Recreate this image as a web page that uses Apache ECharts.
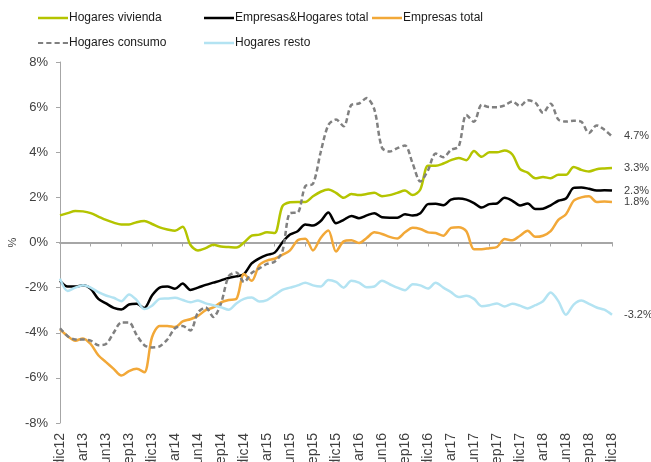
<!DOCTYPE html>
<html>
<head>
<meta charset="utf-8">
<script src="https://cdn.jsdelivr.net/npm/echarts@6/dist/echarts.min.js"></script>
<style>
  html, body { margin: 0; padding: 0; background: #fff; }
  #chart { width: 651px; height: 462px; }
</style>
</head>
<body>
<div id="chart"></div>
<script>
var chartDom = document.getElementById('chart');
var myChart = echarts.init(chartDom);

var FONT = '"Liberation Sans", Arial, sans-serif';

// meses dic12 .. dic18
var monthNames = ['ene', 'feb', 'mar', 'abr', 'may', 'jun', 'jul', 'ago', 'sep', 'oct', 'nov', 'dic'];
var categories = ['dic12'];
for (var y = 13; y <= 18; y++) {
  for (var m = 0; m < 12; m++) {
    categories.push(monthNames[m] + y);
  }
}

var hogaresVivienda = [
  1.2, 1.3, 1.4, 1.38, 1.3, 1.15, 1.0, 0.88, 0.8, 0.8, 0.9, 0.95,
  0.82, 0.67, 0.58, 0.52, 0.7, -0.1, -0.35, -0.25, -0.1, -0.18, -0.2, -0.22,
  0.0, 0.3, 0.35, 0.45, 0.42, 1.6, 1.78, 1.8, 1.8, 2.05, 2.25, 2.35,
  2.2, 1.98, 2.15, 2.1, 2.15, 2.2, 2.05, 2.1, 2.2, 2.3, 2.1, 2.35,
  3.4, 3.4, 3.5, 3.65, 3.75, 3.65, 4.05, 3.8, 4.0, 4.0, 4.08, 3.9,
  3.25, 3.1, 2.85, 2.9, 2.85, 3.0, 3.0, 3.35, 3.22, 3.15, 3.25, 3.28,
  3.3
];

var empresasHogaresTotal = [
  -1.7, -1.95, -1.95, -1.9, -2.05, -2.5, -2.7, -2.9, -2.97, -2.75, -2.72, -2.9,
  -2.35, -2.0, -1.95, -2.05, -1.82, -2.1, -2.0, -1.88, -1.78, -1.68, -1.57, -1.5,
  -1.4, -0.93, -0.7, -0.55, -0.45, 0.0, 0.35, 0.5, 0.8, 0.75, 0.95, 1.33,
  0.85, 1.0, 1.18, 1.08, 1.2, 1.3, 1.12, 1.1, 1.1, 1.25, 1.2, 1.3,
  1.7, 1.72, 1.65, 1.9, 1.95, 1.9, 1.75, 1.55, 1.7, 1.73, 1.98, 1.85,
  1.64, 1.73, 1.48, 1.5, 1.65, 1.85, 1.95, 2.42, 2.44, 2.38, 2.3, 2.32,
  2.3
];

var empresasTotal = [
  -3.85, -4.15, -4.35, -4.25, -4.5, -5.0, -5.3, -5.6, -5.9, -5.7, -5.6, -5.75,
  -4.2, -3.7, -3.7, -3.75, -3.5, -3.4, -3.25, -3.0, -2.88, -2.65, -2.55, -2.5,
  -1.4, -1.7, -1.0, -0.8, -0.72, -0.55, -0.35, 0.1, 0.17, -0.35, 0.2, 0.53,
  -0.4, 0.05, 0.1, -0.02, 0.2, 0.45, 0.38, 0.25, 0.18, 0.45, 0.65, 0.6,
  0.45, 0.42, 0.3, 0.65, 0.68, 0.5, -0.3, -0.3, -0.25, -0.2, 0.15, 0.1,
  0.3, 0.52, 0.25, 0.3, 0.5, 1.0, 1.25, 1.85, 2.0, 2.05, 1.8, 1.82,
  1.8
];

var hogaresConsumo = [
  -3.8, -4.15, -4.3, -4.3, -4.35, -4.55, -4.5, -4.0, -3.55, -3.55, -4.1, -4.55,
  -4.65, -4.6, -4.3, -3.8, -3.7, -3.9, -3.1, -2.88, -3.3, -2.7, -1.5, -1.33,
  -1.75, -1.35, -1.15, -0.95, -0.85, -0.4, 1.3, 1.33, 2.5, 2.6, 4.0, 5.2,
  5.45, 5.15, 6.1, 6.16, 6.4, 5.9, 4.2, 4.03, 4.18, 4.3, 3.5, 2.7,
  3.2, 3.94, 3.78, 4.1, 4.25, 5.65, 5.35, 6.1, 6.0, 6.0, 6.08, 6.25,
  6.05, 6.3, 6.2, 5.75, 6.15, 5.45, 5.36, 5.4, 5.35, 4.85, 5.19, 5.0,
  4.7
];

var hogaresResto = [
  -1.6, -2.15, -2.0, -1.9, -2.0, -2.2, -2.35, -2.45, -2.6, -2.3, -2.55, -2.95,
  -2.8, -2.5, -2.48, -2.45, -2.55, -2.65, -2.57, -2.7, -2.78, -2.87, -2.98, -2.7,
  -2.5, -2.44, -2.62, -2.55, -2.33, -2.1, -2.0, -1.9, -1.78, -1.9, -1.95, -1.66,
  -1.75, -2.0, -1.7, -1.78, -1.98, -1.95, -1.7, -1.85, -2.0, -2.12, -1.85, -1.9,
  -2.04, -1.78, -2.0, -2.2, -2.42, -2.36, -2.5, -2.82, -2.78, -2.7, -2.84, -2.72,
  -2.8, -2.92, -2.78, -2.6, -2.22, -2.6, -3.2, -2.75, -2.57, -2.72, -2.88, -2.98,
  -3.2
];

var endLabel = {
  show: true,
  distance: 12,
  fontFamily: FONT,
  fontSize: 11,
  color: '#404040',
  formatter: function (p) { return p.value.toFixed(1) + '%'; }
};

function lineSeries(name, data, color, type) {
  return {
    name: name,
    type: 'line',
    data: data,
    symbol: 'none',
    smooth: 0.3,
    xAxisIndex: 0,
    lineStyle: { color: color, width: 2.5, type: type || 'solid' },
    itemStyle: { color: color },
    endLabel: endLabel,
    emphasis: { disabled: true }
  };
}

var solidIcon = 'rect';
var dashIcon = 'path://M0,0h5v2h-5z M8,0h5v2h-5z M16,0h5v2h-5z M24,0h5v2h-5z';

var legendBase = {
  orient: 'vertical',
  top: 11,
  padding: 0,
  itemWidth: 30,
  itemHeight: 2.5,
  itemGap: 11,
  textStyle: { fontFamily: FONT, fontSize: 12, lineHeight: 14, color: '#1a1a1a', padding: [0, 0, 0, -4] },
  selectedMode: false
};

var option = {
  animation: false,
  textStyle: { fontFamily: FONT },
  legend: [
    Object.assign({}, legendBase, {
      left: 38,
      data: [{ name: 'Hogares vivienda', icon: solidIcon }, { name: 'Hogares consumo', icon: dashIcon }]
    }),
    Object.assign({}, legendBase, {
      left: 204,
      data: [{ name: 'Empresas&Hogares total', icon: solidIcon }, { name: 'Hogares resto', icon: solidIcon }]
    }),
    Object.assign({}, legendBase, {
      left: 372,
      data: [{ name: 'Empresas total', icon: solidIcon }]
    })
  ],
  grid: { left: 60, right: 39, top: 62, bottom: 39, outerBoundsMode: 'none', containLabel: false },
  xAxis: [
    {
      type: 'category',
      position: 'bottom',
      data: categories,
      boundaryGap: false,
      axisLine: { show: false, onZero: false },
      axisTick: { show: false },
      axisLabel: {
        interval: 2,
        rotate: 90,
        margin: 10,
        fontFamily: FONT,
        fontSize: 14,
        color: '#404040'
      }
    },
    {
      type: 'category',
      position: 'bottom',
      data: categories,
      boundaryGap: false,
      axisLine: { show: true, onZero: true, lineStyle: { color: '#a6a6a6', width: 2 } },
      axisTick: { show: true, interval: 3, length: 4, lineStyle: { color: '#a6a6a6', width: 1 } },
      axisLabel: { show: false }
    }
  ],
  yAxis: {
    type: 'value',
    min: -8,
    max: 8,
    interval: 2,
    name: '%',
    nameLocation: 'middle',
    nameRotate: 90,
    nameGap: 42,
    nameMoveOverlap: false,
    nameTextStyle: { fontFamily: FONT, fontSize: 11, color: '#404040' },
    axisLine: { show: true, lineStyle: { color: '#a6a6a6', width: 1 } },
    axisTick: { show: true, length: 4, lineStyle: { color: '#a6a6a6' } },
    splitLine: { show: false },
    axisLabel: {
      margin: 12,
      fontFamily: FONT,
      fontSize: 13,
      color: '#404040',
      formatter: '{value}%'
    }
  },
  series: [
    lineSeries('Hogares vivienda', hogaresVivienda, '#b4c400'),
    lineSeries('Empresas&Hogares total', empresasHogaresTotal, '#000000'),
    lineSeries('Empresas total', empresasTotal, '#f2a838'),
    lineSeries('Hogares consumo', hogaresConsumo, '#808080', [5, 3]),
    lineSeries('Hogares resto', hogaresResto, '#b3e3f2')
  ]
};

option && myChart.setOption(option);
</script>
</body>
</html>
